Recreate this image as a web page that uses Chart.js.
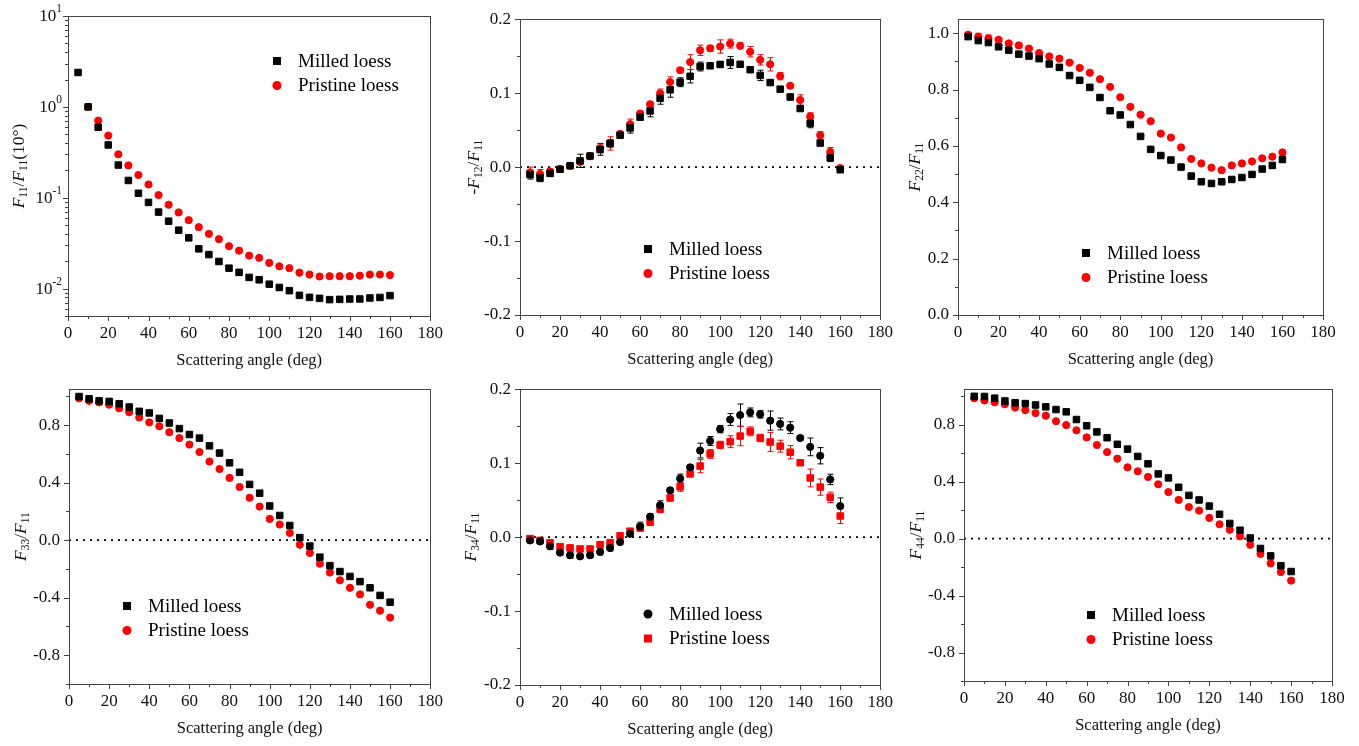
<!DOCTYPE html>
<html>
<head>
<meta charset="utf-8">
<script src="https://cdn.jsdelivr.net/npm/chart.js@4"></script>
<style>
  html, body { margin: 0; padding: 0; background: #fff; }
  #wrap { position: relative; width: 1359px; height: 746px; overflow: hidden; }
  canvas { position: absolute; }
</style>
</head>
<body>
<div id="wrap">
  <canvas id="p1"></canvas><canvas id="p2"></canvas><canvas id="p3"></canvas>
  <canvas id="p4"></canvas><canvas id="p5"></canvas><canvas id="p6"></canvas>
</div>
<script>
// scattering angles (deg) shared by every panel
const angles = [5, 10, 15, 20, 25, 30, 35, 40, 45, 50, 55, 60, 65, 70, 75, 80,
                85, 90, 95, 100, 105, 110, 115, 120, 125, 130, 135, 140, 145, 150, 155, 160];
const angleTicks = [0, 20, 40, 60, 80, 100, 120, 140, 160, 180];
const seriesNames = ['Milled loess', 'Pristine loess'];

// F11/F11(10deg), log scale
const f11Milled = [2.39, 1.0, 0.597, 0.381, 0.229, 0.155, 0.112, 0.0889, 0.0695, 0.0553, 0.044, 0.0362,
                   0.0274, 0.0237, 0.0199, 0.0168, 0.0151, 0.0133, 0.0125, 0.0112, 0.0103, 0.0095, 0.00844,
                   0.00802, 0.00782, 0.00757, 0.00762, 0.00769, 0.0077, 0.00789, 0.008, 0.00838];
const f11Pristine = [null, 1.0, 0.707, 0.483, 0.301, 0.227, 0.178, 0.14, 0.107, 0.0838, 0.0689, 0.0567,
                     0.0475, 0.0401, 0.035, 0.0293, 0.0262, 0.0231, 0.0218, 0.0192, 0.0176, 0.0168, 0.015,
                     0.0143, 0.0136, 0.0137, 0.0137, 0.0137, 0.0139, 0.0143, 0.0143, 0.0141];
const f11Ticks = [0.01, 0.1, 1, 10];

// -F12/F11
const f12Milled = [-0.0102, -0.0147, -0.0085, -0.003, 0.0018, 0.0085, 0.015, 0.024, 0.032, 0.043, 0.053, 0.0676,
                   0.076, 0.093, 0.1045, 0.1148, 0.1228, 0.136, 0.137, 0.1388, 0.1415, 0.139, 0.1317, 0.124,
                   0.1143, 0.1054, 0.0948, 0.0792, 0.0592, 0.0325, 0.0125, -0.0036];
const f12Pristine = [-0.007, -0.0093, -0.0058, -0.0027, 0.0018, 0.007, 0.0147, 0.025, 0.032, 0.045, 0.058, 0.0725,
                     0.085, 0.0996, 0.115, 0.131, 0.142, 0.158, 0.1606, 0.163, 0.167, 0.164, 0.156, 0.145,
                     0.139, 0.123, 0.11, 0.0907, 0.0685, 0.043, 0.0205, -0.0013];
const f12MilledErr = [0.006, 0.005, 0.004, 0.002, 0.002, 0.009, 0.003, 0.008, 0.005, 0.003, 0.007, 0.004,
                      0.008, 0.008, 0.010, 0.006, 0.009, 0.006, 0.003, 0.003, 0.008, 0.003, 0.003, 0.007,
                      0.003, 0.003, 0.004, 0.003, 0.006, 0.003, 0.005, 0.003];
const f12PristineErr = [0.007, 0.006, 0.003, 0.002, 0.002, 0.003, 0.003, 0.006, 0.009, 0.003, 0.007, 0.003,
                        0.003, 0.006, 0.007, 0.003, 0.010, 0.007, 0.004, 0.009, 0.006, 0.004, 0.007, 0.007,
                        0.009, 0.005, 0.003, 0.007, 0.005, 0.005, 0.006, 0.003];
const f12Ticks = [-0.2, -0.1, 0.0, 0.1, 0.2];

// F22/F11
const f22Milled = [0.988, 0.974, 0.967, 0.952, 0.94, 0.926, 0.919, 0.91, 0.891, 0.879, 0.85, 0.833,
                   0.808, 0.772, 0.725, 0.71, 0.676, 0.634, 0.588, 0.566, 0.55, 0.525, 0.493, 0.473,
                   0.467, 0.473, 0.481, 0.488, 0.499, 0.518, 0.531, 0.552];
const f22Pristine = [0.995, 0.988, 0.982, 0.977, 0.964, 0.957, 0.946, 0.93, 0.918, 0.91, 0.896, 0.877,
                     0.86, 0.837, 0.81, 0.773, 0.739, 0.711, 0.688, 0.644, 0.63, 0.595, 0.554, 0.538,
                     0.523, 0.514, 0.531, 0.538, 0.545, 0.556, 0.562, 0.577];
const f22MilledErr = [0.006, 0.008, 0.006, 0.004, 0.004, 0.005, 0.003, 0.004, 0.004, 0.005, 0.004, 0.005,
                      0.004, 0.006, 0.003, 0.003, 0.003, 0.003, 0.004, 0.003, 0.003, 0.003, 0.010, 0.003,
                      0.003, 0.003, 0.003, 0.003, 0.003, 0.003, 0.006, 0.003];
const f22PristineErr = [0.006, 0.012, 0.012, 0.005, 0.005, 0.006, 0.004, 0.004, 0.004, 0.004, 0.004, 0.004,
                        0.003, 0.003, 0.003, 0.003, 0.003, 0.003, 0.003, 0.003, 0.006, 0.003, 0.004, 0.003,
                        0.004, 0.003, 0.003, 0.004, 0.003, 0.003, 0.004, 0.004];
const f22Ticks = [0.0, 0.2, 0.4, 0.6, 0.8, 1.0];

// F33/F11
const f33Milled = [0.999, 0.983, 0.969, 0.965, 0.949, 0.926, 0.896, 0.885, 0.847, 0.815, 0.776, 0.735,
                   0.71, 0.656, 0.606, 0.538, 0.472, 0.388, 0.327, 0.238, 0.172, 0.102, 0.018, -0.041,
                   -0.118, -0.177, -0.218, -0.252, -0.288, -0.331, -0.384, -0.431];
const f33Pristine = [0.987, 0.969, 0.958, 0.942, 0.917, 0.89, 0.853, 0.819, 0.792, 0.751, 0.71, 0.665,
                     0.613, 0.547, 0.495, 0.433, 0.37, 0.295, 0.234, 0.148, 0.109, 0.05, -0.032, -0.089,
                     -0.163, -0.225, -0.279, -0.331, -0.377, -0.449, -0.49, -0.538];
const f33Ticks = [-0.8, -0.4, 0.0, 0.4, 0.8];

// F34/F11
const f34Milled = [-0.0045, -0.0058, -0.0125, -0.021, -0.0245, -0.026, -0.0245, -0.02, -0.0147, -0.0067, 0.0045, 0.0142,
                   0.0276, 0.0431, 0.0632, 0.0792, 0.0943, 0.117, 0.13, 0.146, 0.159, 0.165, 0.1686, 0.166,
                   0.1575, 0.153, 0.148, 0.134, 0.122, 0.11, 0.078, 0.042];
const f34Pristine = [-0.002, -0.0045, -0.0076, -0.0129, -0.0147, -0.016, -0.016, -0.0102, -0.0076, 0.0018, 0.008, 0.0129,
                     0.02, 0.038, 0.053, 0.068, 0.0854, 0.096, 0.1125, 0.1246, 0.129, 0.1366, 0.143, 0.134,
                     0.1286, 0.123, 0.1148, 0.1005, 0.08, 0.0676, 0.0538, 0.0285];
const f34MilledErr = [0.003, 0.003, 0.004, 0.003, 0.004, 0.003, 0.003, 0.004, 0.004, 0.003, 0.003, 0.006,
                      0.004, 0.006, 0.003, 0.006, 0.003, 0.010, 0.006, 0.005, 0.008, 0.015, 0.006, 0.005,
                      0.013, 0.008, 0.008, 0.003, 0.012, 0.011, 0.007, 0.011];
const f34PristineErr = [0.003, 0.003, 0.003, 0.003, 0.004, 0.003, 0.003, 0.004, 0.004, 0.003, 0.003, 0.005,
                        0.004, 0.005, 0.004, 0.006, 0.003, 0.009, 0.006, 0.005, 0.008, 0.013, 0.006, 0.005,
                        0.013, 0.008, 0.009, 0.003, 0.012, 0.011, 0.007, 0.010];
const f34Ticks = [-0.2, -0.1, 0.0, 0.1, 0.2];

// F44/F11
const f44Milled = [1.0, 0.999, 0.987, 0.967, 0.955, 0.949, 0.939, 0.926, 0.907, 0.891, 0.837, 0.793,
                   0.75, 0.709, 0.663, 0.629, 0.578, 0.526, 0.455, 0.427, 0.361, 0.304, 0.272, 0.229,
                   0.171, 0.107, 0.059, 0.005, -0.069, -0.121, -0.19, -0.231];
const f44Pristine = [0.987, 0.971, 0.958, 0.944, 0.921, 0.903, 0.882, 0.864, 0.825, 0.798, 0.761, 0.711,
                     0.658, 0.608, 0.562, 0.501, 0.473, 0.434, 0.382, 0.327, 0.272, 0.222, 0.197, 0.146,
                     0.101, 0.062, 0.016, -0.043, -0.107, -0.174, -0.235, -0.295];
const f44Ticks = [-0.8, -0.4, 0.0, 0.4, 0.8];

const SERIF = "'Liberation Serif', 'Times New Roman', serif";
const BLACK = '#000000';
const RED = '#ff0000';
const AXIS = '#444444';

// draw text made of plain / italic / subscript pieces, centred on 0,0
function drawRich(ctx, parts, size) {
  const sub = size * 0.66;
  const fontOf = p => (p[1] === 'i' ? 'italic ' : '') + (p[1] === 's' ? sub : size) + 'px ' + SERIF;
  let total = 0;
  parts.forEach(p => { ctx.font = fontOf(p); total += ctx.measureText(p[0]).width; });
  let x = -total / 2;
  ctx.textBaseline = 'middle';
  ctx.textAlign = 'left';
  parts.forEach(p => {
    ctx.font = fontOf(p);
    ctx.fillText(p[0], x, p[1] === 's' ? size * 0.3 : 0);
    x += ctx.measureText(p[0]).width;
  });
}

// minor/major tick positions inside [min, max]
function tickValues(min, max, step) {
  const n = Math.floor((max - min) / step + 1e-6);
  const out = [];
  for (let k = 0; k <= n; k++) out.push(+(min + k * step).toFixed(6));
  return out;
}

const panelPlugin = {
  id: 'panel',
  beforeDatasetsDraw(chart) {
    // error bars under the markers
    const ctx = chart.ctx;
    const ys = chart.scales.y;
    chart.data.datasets.forEach((ds, i) => {
      if (!ds.errors) return;
      const meta = chart.getDatasetMeta(i);
      ctx.save();
      ctx.strokeStyle = ds.backgroundColor;
      ctx.lineWidth = 1;
      meta.data.forEach((pt, j) => {
        const e = ds.errors[j];
        const v = ds.data[j].y;
        if (!e || v == null) return;
        const x = Math.round(pt.x) + 0.5;
        const y1 = ys.getPixelForValue(v + e);
        const y2 = ys.getPixelForValue(v - e);
        ctx.beginPath();
        ctx.moveTo(x, y1); ctx.lineTo(x, y2);
        ctx.moveTo(x - 3, y1); ctx.lineTo(x + 3, y1);
        ctx.moveTo(x - 3, y2); ctx.lineTo(x + 3, y2);
        ctx.stroke();
      });
      ctx.restore();
    });
  },
  afterDraw(chart, args, o) {
    const { ctx, chartArea: a } = chart;
    const xs = chart.scales.x, ys = chart.scales.y;
    ctx.save();
    // box
    ctx.strokeStyle = AXIS;
    ctx.lineWidth = 1;
    ctx.strokeRect(Math.round(a.left) + 0.5, Math.round(a.top) + 0.5,
                   Math.round(a.right - a.left), Math.round(a.bottom - a.top));
    // x ticks (major every 20, minor every 10)
    ctx.beginPath();
    tickValues(0, 180, 10).forEach(v => {
      const px = Math.round(xs.getPixelForValue(v)) + 0.5;
      const len = v % 20 === 0 ? 5 : 3;
      ctx.moveTo(px, a.bottom); ctx.lineTo(px, a.bottom + len);
    });
    // y ticks
    let yt = [];
    if (o.log) {
      for (let d = -3; d <= 1; d++) {
        for (let m = 1; m <= 9; m++) {
          const v = m * Math.pow(10, d);
          if (v >= ys.min * 0.999 && v <= ys.max * 1.001) yt.push([v, m === 1]);
        }
      }
    } else {
      yt = tickValues(o.yMin, o.yMax, o.yMinor).map(v => [v, Math.abs(v / o.yMajor - Math.round(v / o.yMajor)) < 1e-6]);
    }
    yt.forEach(([v, major]) => {
      const py = Math.round(ys.getPixelForValue(v)) + 0.5;
      ctx.moveTo(a.left, py); ctx.lineTo(a.left - (major ? 5 : 3), py);
    });
    ctx.stroke();

    ctx.fillStyle = '#111';
    // log-axis labels 10^k
    if (o.log) {
      f11Ticks.forEach(v => {
        const k = Math.round(Math.log10(v));
        const py = ys.getPixelForValue(v);
        ctx.textBaseline = 'middle';
        ctx.textAlign = 'right';
        ctx.font = '11.5px ' + SERIF;
        const ex = String(k);
        const ew = ctx.measureText(ex).width;
        const right = a.left - 6;
        ctx.fillText(ex, right, py - 7);
        ctx.font = '17px ' + SERIF;
        ctx.fillText('10', right - ew, py + 1);
      });
    }
    // x title
    ctx.font = '16.5px ' + SERIF;
    ctx.textAlign = 'center';
    ctx.textBaseline = 'middle';
    ctx.fillText('Scattering angle (deg)', (a.left + a.right) / 2, a.bottom + 45);
    // y title, rotated
    ctx.save();
    ctx.translate(o.titleX, (a.top + a.bottom) / 2);
    ctx.rotate(-Math.PI / 2);
    drawRich(ctx, o.yTitle, 17.5);
    ctx.restore();
    // legend
    const lg = o.legend;
    chart.data.datasets.forEach((ds, i) => {
      if (ds.hideLegend) return;
      const cy = lg.y + i * 24.5;
      ctx.fillStyle = ds.backgroundColor;
      ctx.beginPath();
      if (ds.pointStyle === 'rect') ctx.rect(lg.x - 4, cy - 4, 8, 8);
      else ctx.arc(lg.x, cy, 4.5, 0, Math.PI * 2);
      ctx.fill();
      ctx.fillStyle = '#000';
      ctx.font = '19px ' + SERIF;
      ctx.textAlign = 'left';
      ctx.textBaseline = 'middle';
      ctx.fillText(ds.label, lg.x + 21, cy + 1);
    });
    ctx.restore();
  }
};

function toPoints(values) {
  return angles.map((a, i) => ({ x: a, y: values[i] }));
}

function series(label, values, color, style, errors) {
  return {
    label: label,
    data: toPoints(values),
    backgroundColor: color,
    borderColor: color,
    borderWidth: 1,
    pointStyle: style,
    pointRadius: style === 'rect' ? 4.6 : 3.6,
    errors: errors || null
  };
}

function zeroLine() {
  return {
    type: 'line',
    label: 'zero',
    hideLegend: true,
    data: [{ x: 0, y: 0 }, { x: 180, y: 0 }],
    borderColor: '#000',
    borderWidth: 1.8,
    borderDash: [2, 5],
    pointRadius: 0,
    order: 5
  };
}

function makePanel(id, cell, plot, datasets, y, extra) {
  const cv = document.getElementById(id);
  cv.width = cell.w;
  cv.height = cell.h;
  cv.style.left = cell.x + 'px';
  cv.style.top = cell.y + 'px';
  const tickFont = { family: SERIF, size: 17 };

  const yScale = {
    type: y.log ? 'logarithmic' : 'linear',
    min: y.min,
    max: y.max,
    afterBuildTicks: s => { s.ticks = y.ticks.map(v => ({ value: v })); },
    afterFit: s => { s.width = plot.left - cell.x; },
    grid: { display: false, drawTicks: false },
    border: { display: false },
    ticks: {
      display: !y.log,
      padding: 9,
      font: tickFont,
      color: '#111',
      callback: v => Number(v).toFixed(1)
    }
  };

  new Chart(cv, {
    type: 'scatter',
    data: { datasets: datasets },
    options: {
      responsive: false,
      animation: false,
      devicePixelRatio: 1,
      layout: {
        padding: {
          left: 0,
          top: plot.top - cell.y,
          right: cell.x + cell.w - plot.right,
          bottom: 0
        }
      },
      plugins: {
        legend: { display: false },
        tooltip: { enabled: false },
        panel: Object.assign({ log: !!y.log, yMin: y.min, yMax: y.max, yMajor: y.major, yMinor: y.minor }, extra)
      },
      scales: {
        x: {
          type: 'linear',
          min: 0,
          max: 180,
          afterBuildTicks: s => { s.ticks = angleTicks.map(v => ({ value: v })); },
          afterFit: s => { s.height = cell.y + cell.h - plot.bottom; },
          grid: { display: false, drawTicks: false },
          border: { display: false },
          ticks: { padding: 7, font: tickFont, color: '#111', maxRotation: 0 }
        },
        y: yScale
      }
    },
    plugins: [panelPlugin]
  });
}

// panel 1: F11
makePanel('p1', { x: 0, y: 0, w: 450, h: 370 }, { left: 68, right: 435, top: 16, bottom: 316 },
  [series(seriesNames[0], f11Milled, BLACK, 'rect'),
   series(seriesNames[1], f11Pristine, RED, 'circle')],
  { log: true, min: 0.005, max: 10, ticks: f11Ticks },
  { titleX: 19, legend: { x: 277, y: 61 },
    yTitle: [['F', 'i'], ['11', 's'], ['/', ''], ['F', 'i'], ['11', 's'], ['(10°)', '']] });

// panel 2: -F12
makePanel('p2', { x: 450, y: 0, w: 450, h: 370 }, { left: 520, right: 885, top: 15, bottom: 315 },
  [series(seriesNames[0], f12Milled, BLACK, 'rect', f12MilledErr),
   series(seriesNames[1], f12Pristine, RED, 'circle', f12PristineErr),
   zeroLine()],
  { min: -0.2, max: 0.2, major: 0.1, minor: 0.05, ticks: f12Ticks },
  { titleX: 24, legend: { x: 198, y: 249 },
    yTitle: [['-', ''], ['F', 'i'], ['12', 's'], ['/', ''], ['F', 'i'], ['11', 's']] });

// panel 3: F22
makePanel('p3', { x: 900, y: 0, w: 459, h: 370 }, { left: 958, right: 1323, top: 17, bottom: 315 },
  [series(seriesNames[0], f22Milled, BLACK, 'rect', f22MilledErr),
   series(seriesNames[1], f22Pristine, RED, 'circle', f22PristineErr)],
  { min: 0, max: 1.05, major: 0.2, minor: 0.1, ticks: f22Ticks },
  { titleX: 15, legend: { x: 186, y: 253 },
    yTitle: [['F', 'i'], ['22', 's'], ['/', ''], ['F', 'i'], ['11', 's']] });

// panel 4: F33
makePanel('p4', { x: 0, y: 370, w: 450, h: 376 }, { left: 69, right: 436, top: 383, bottom: 684 },
  [series(seriesNames[0], f33Milled, BLACK, 'rect'),
   series(seriesNames[1], f33Pristine, RED, 'circle'),
   zeroLine()],
  { min: -1.0, max: 1.05, major: 0.4, minor: 0.2, ticks: f33Ticks },
  { titleX: 21, legend: { x: 127, y: 236 },
    yTitle: [['F', 'i'], ['33', 's'], ['/', ''], ['F', 'i'], ['11', 's']] });

// panel 5: F34 (markers swapped)
makePanel('p5', { x: 450, y: 370, w: 450, h: 376 }, { left: 520, right: 885, top: 385, bottom: 685 },
  [series(seriesNames[0], f34Milled, BLACK, 'circle', f34MilledErr),
   series(seriesNames[1], f34Pristine, RED, 'rect', f34PristineErr),
   zeroLine()],
  { min: -0.2, max: 0.2, major: 0.1, minor: 0.05, ticks: f34Ticks },
  { titleX: 21, legend: { x: 198, y: 244 },
    yTitle: [['F', 'i'], ['34', 's'], ['/', ''], ['F', 'i'], ['11', 's']] });

// panel 6: F44
makePanel('p6', { x: 900, y: 370, w: 459, h: 376 }, { left: 964, right: 1332, top: 383, bottom: 681 },
  [series(seriesNames[0], f44Milled, BLACK, 'rect'),
   series(seriesNames[1], f44Pristine, RED, 'circle'),
   zeroLine()],
  { min: -1.0, max: 1.05, major: 0.4, minor: 0.2, ticks: f44Ticks },
  { titleX: 16, legend: { x: 191, y: 245 },
    yTitle: [['F', 'i'], ['44', 's'], ['/', ''], ['F', 'i'], ['11', 's']] });
</script>
</body>
</html>
